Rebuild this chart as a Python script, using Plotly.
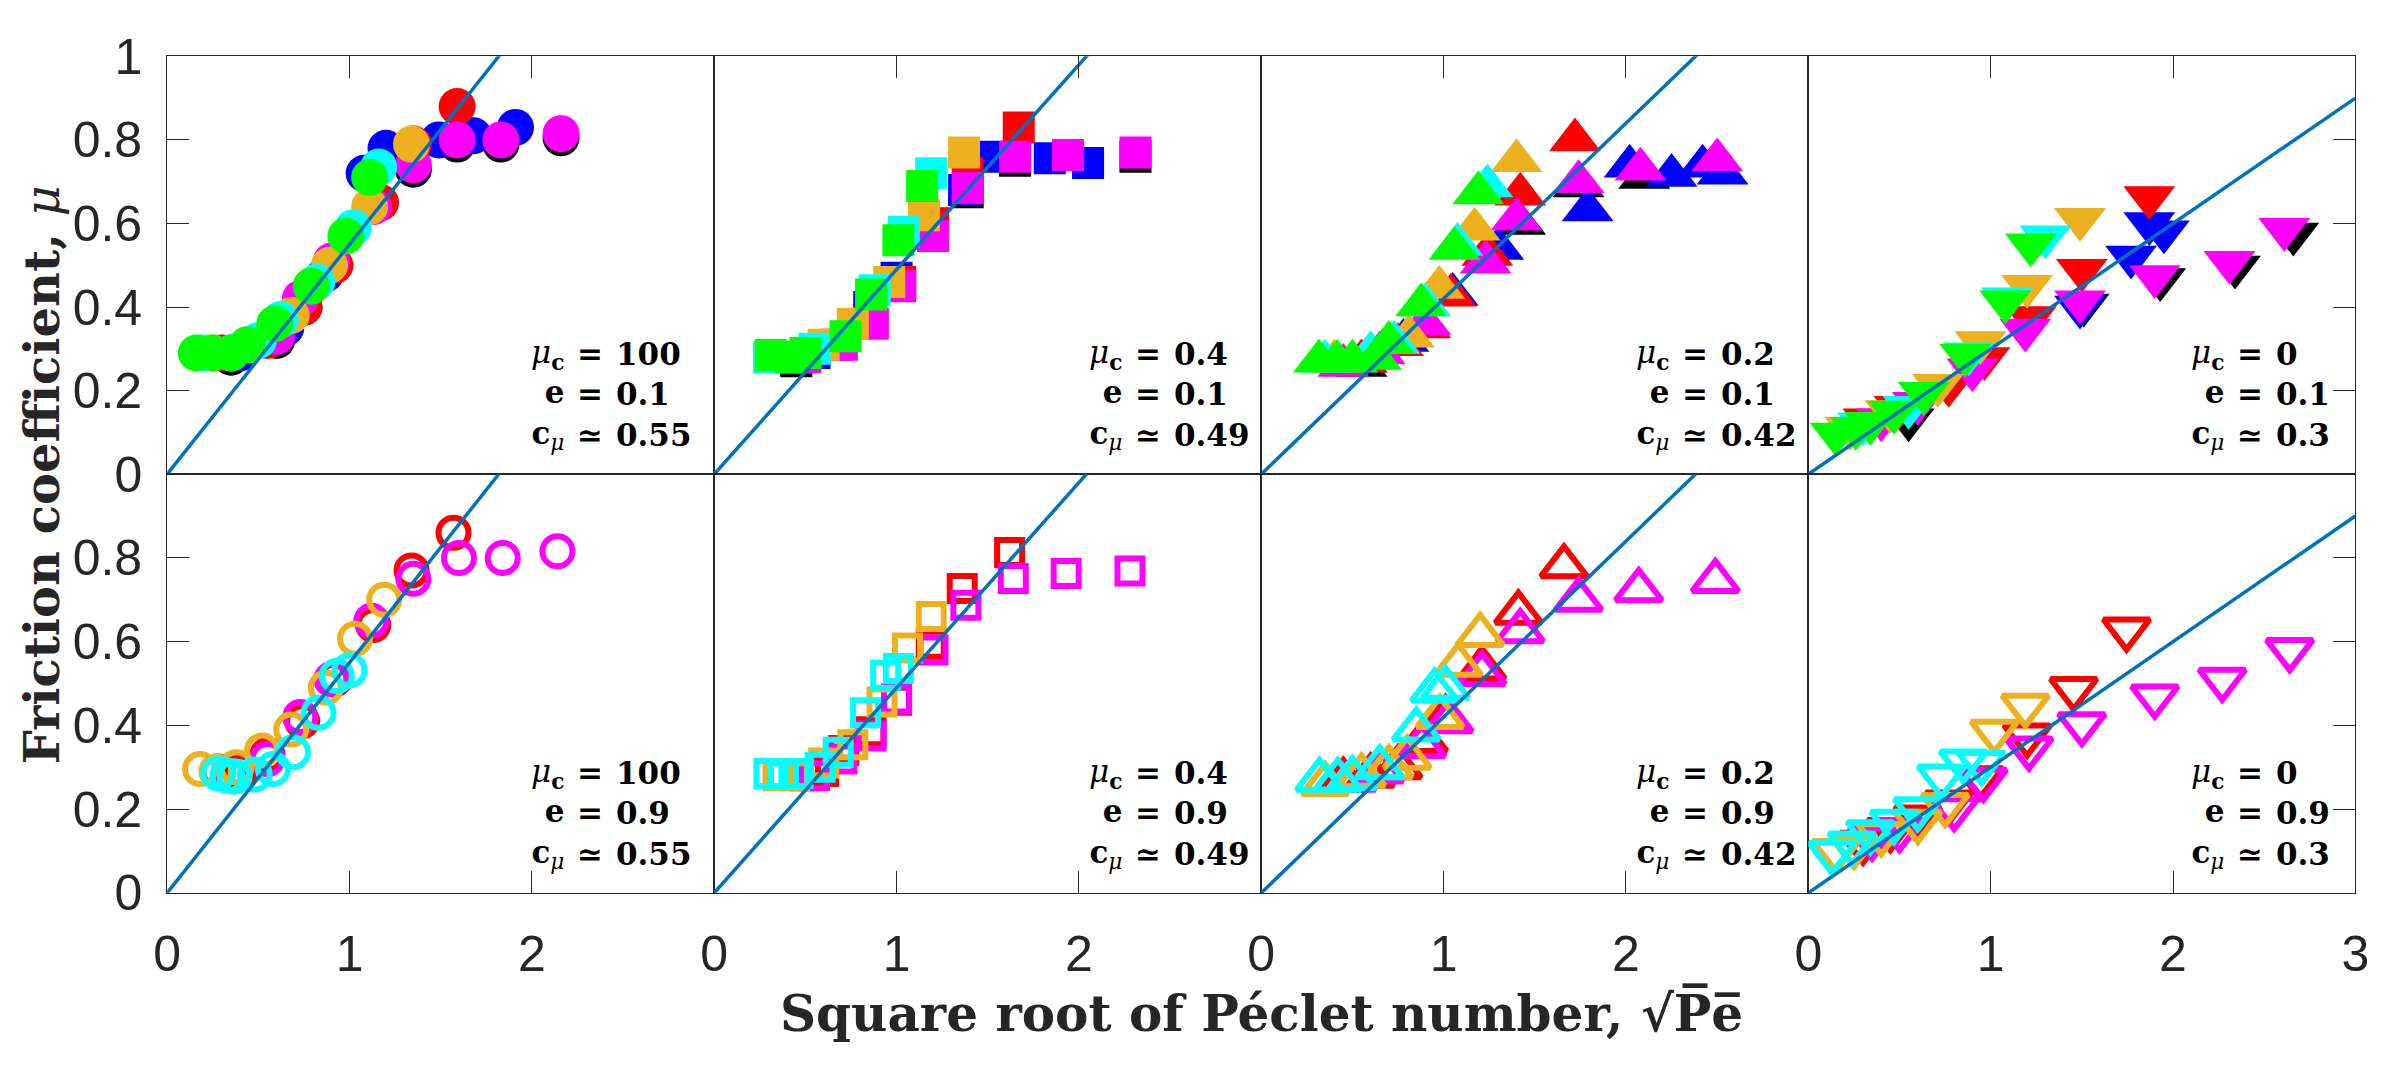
import plotly.graph_objects as go

# ---------------- data ----------------
mu_c_labels = ["100", "0.4", "0.2", "0"]
e_labels = ["0.1", "0.9"]
c_mu_values = [0.55, 0.49, 0.42, 0.3]
c_mu_labels = ["0.55", "0.49", "0.42", "0.3"]
x_ticks_inner = [0, 1, 2]
x_ticks_last = [0, 1, 2, 3]
y_ticks_top = [0, 0.2, 0.4, 0.6, 0.8, 1]
y_ticks_bottom = [0, 0.2, 0.4, 0.6, 0.8]

# top row (e = 0.1), filled markers
p1_black_x = [0.35, 0.60, 0.75, 1.35, 1.59, 1.83, 2.16]
p1_black_y = [0.28, 0.32, 0.40, 0.73, 0.79, 0.79, 0.805]
p1_blue_x = [0.40, 0.65, 0.87, 1.08, 1.20, 1.49, 1.68, 1.91]
p1_blue_y = [0.29, 0.35, 0.48, 0.72, 0.78, 0.80, 0.81, 0.83]
p1_red_x = [0.30, 0.55, 0.75, 0.92, 1.17, 1.35, 1.59]
p1_red_y = [0.29, 0.32, 0.40, 0.50, 0.65, 0.79, 0.88]
p1_magenta_x = [0.35, 0.60, 0.73, 0.90, 1.13, 1.35, 1.59, 1.83, 2.16]
p1_magenta_y = [0.29, 0.33, 0.42, 0.51, 0.64, 0.74, 0.80, 0.80, 0.815]
p1_orange_x = [0.25, 0.45, 0.68, 0.89, 1.11, 1.34]
p1_orange_y = [0.29, 0.31, 0.38, 0.50, 0.64, 0.79]
p1_cyan_x = [0.20, 0.35, 0.50, 0.62, 0.82, 1.02, 1.16]
p1_cyan_y = [0.29, 0.29, 0.32, 0.37, 0.46, 0.59, 0.735]
p1_green_x = [0.16, 0.25, 0.35, 0.44, 0.59, 0.79, 0.98, 1.11]
p1_green_y = [0.29, 0.29, 0.29, 0.31, 0.36, 0.45, 0.57, 0.71]

p2_black_x = [0.45, 1.39, 1.65, 2.31]
p2_black_y = [0.27, 0.675, 0.75, 0.76]
p2_blue_x = [0.55, 0.85, 1.00, 1.20, 1.37, 1.54, 1.84, 2.05]
p2_blue_y = [0.29, 0.40, 0.47, 0.60, 0.68, 0.76, 0.756, 0.745]
p2_red_x = [0.45, 0.67, 0.86, 1.02, 1.20, 1.39, 1.67]
p2_red_y = [0.28, 0.31, 0.38, 0.46, 0.60, 0.72, 0.83]
p2_magenta_x = [0.50, 0.70, 0.87, 1.02, 1.20, 1.39, 1.65, 1.94, 2.31]
p2_magenta_y = [0.28, 0.31, 0.36, 0.45, 0.57, 0.685, 0.76, 0.764, 0.77]
p2_orange_x = [0.40, 0.60, 0.76, 0.96, 1.15, 1.37]
p2_orange_y = [0.28, 0.31, 0.36, 0.46, 0.62, 0.77]
p2_cyan_x = [0.30, 0.55, 0.88, 1.04, 1.19]
p2_cyan_y = [0.28, 0.30, 0.44, 0.58, 0.72]
p2_green_x = [0.31, 0.42, 0.50, 0.72, 0.86, 1.01, 1.14]
p2_green_y = [0.285, 0.28, 0.29, 0.33, 0.43, 0.56, 0.69]

p3_black_x = [0.55, 1.42, 1.74, 2.10]
p3_black_y = [0.26, 0.60, 0.69, 0.71]
p3_blue_x = [0.55, 0.78, 1.05, 1.30, 1.79, 2.02, 2.25, 2.42, 2.53]
p3_blue_y = [0.27, 0.32, 0.43, 0.54, 0.632, 0.737, 0.715, 0.737, 0.72]
p3_red_x = [0.55, 0.75, 0.90, 1.04, 1.24, 1.42, 1.72]
p3_red_y = [0.27, 0.31, 0.352, 0.428, 0.526, 0.67, 0.80]
p3_magenta_x = [0.45, 0.65, 0.90, 1.23, 1.40, 1.74, 2.08, 2.50]
p3_magenta_y = [0.26, 0.29, 0.36, 0.507, 0.61, 0.70, 0.73, 0.752]
p3_orange_x = [0.40, 0.60, 0.81, 0.976, 1.17, 1.40]
p3_orange_y = [0.27, 0.29, 0.33, 0.447, 0.586, 0.75]
p3_cyan_x = [0.35, 0.60, 0.73, 0.90, 1.076, 1.24]
p3_cyan_y = [0.27, 0.29, 0.315, 0.405, 0.55, 0.69]
p3_green_x = [0.316, 0.416, 0.50, 0.63, 0.70, 0.877, 1.06, 1.19]
p3_green_y = [0.27, 0.27, 0.27, 0.277, 0.315, 0.405, 0.54, 0.673]

p4_black_x = [0.55, 1.51, 1.93, 2.34, 2.66]
p4_black_y = [0.13, 0.405, 0.466, 0.496, 0.575]
p4_blue_x = [1.49, 1.77, 1.87, 1.95]
p4_blue_y = [0.40, 0.52, 0.60, 0.58]
p4_red_x = [0.33, 0.50, 0.77, 0.966, 1.22, 1.50, 1.87]
p4_red_y = [0.13, 0.16, 0.213, 0.277, 0.375, 0.488, 0.662]
p4_magenta_x = [0.40, 0.60, 0.90, 1.19, 1.49, 1.90, 2.31, 2.61]
p4_magenta_y = [0.13, 0.17, 0.25, 0.345, 0.413, 0.473, 0.507, 0.586]
p4_orange_x = [0.23, 0.45, 0.71, 0.944, 1.20, 1.49]
p4_orange_y = [0.11, 0.15, 0.213, 0.315, 0.45, 0.61]
p4_cyan_x = [0.30, 0.55, 0.88, 1.09, 1.30]
p4_cyan_y = [0.12, 0.16, 0.288, 0.42, 0.568]
p4_green_x = [0.15, 0.26, 0.34, 0.47, 0.633, 0.86, 1.08, 1.22]
p4_green_y = [0.096, 0.11, 0.122, 0.149, 0.194, 0.285, 0.413, 0.549]

# bottom row (e = 0.9), open markers
p5_red_x = [0.28, 0.40, 0.55, 0.74, 0.92, 1.13, 1.34, 1.57]
p5_red_y = [0.29, 0.29, 0.33, 0.41, 0.51, 0.64, 0.77, 0.86]
p5_magenta_x = [0.35, 0.55, 0.73, 0.90, 1.12, 1.35, 1.60, 1.84, 2.14]
p5_magenta_y = [0.28, 0.32, 0.42, 0.51, 0.65, 0.75, 0.80, 0.80, 0.816]
p5_orange_x = [0.18, 0.27, 0.38, 0.52, 0.68, 0.87, 1.03, 1.19]
p5_orange_y = [0.296, 0.29, 0.30, 0.34, 0.39, 0.49, 0.607, 0.70]
p5_cyan_x = [0.28, 0.33, 0.37, 0.48, 0.58, 0.69, 0.83, 0.93, 1.00]
p5_cyan_y = [0.285, 0.28, 0.278, 0.283, 0.296, 0.336, 0.43, 0.518, 0.532]

p6_red_x = [0.50, 0.60, 0.71, 0.86, 1.00, 1.19, 1.36, 1.62]
p6_red_y = [0.28, 0.29, 0.34, 0.385, 0.46, 0.594, 0.727, 0.813]
p6_magenta_x = [0.55, 0.70, 0.86, 1.00, 1.20, 1.38, 1.64, 1.93, 2.28]
p6_magenta_y = [0.28, 0.32, 0.375, 0.463, 0.58, 0.687, 0.751, 0.763, 0.769]
p6_orange_x = [0.35, 0.44, 0.60, 0.76, 0.92, 1.06, 1.19]
p6_orange_y = [0.28, 0.28, 0.31, 0.354, 0.456, 0.585, 0.66]
p6_cyan_x = [0.30, 0.38, 0.46, 0.58, 0.68, 0.83, 0.94, 1.01]
p6_cyan_y = [0.285, 0.283, 0.285, 0.30, 0.336, 0.43, 0.52, 0.536]

p7_red_x = [0.45, 0.60, 0.75, 0.89, 1.01, 1.21, 1.41, 1.66]
p7_red_y = [0.27, 0.28, 0.30, 0.363, 0.42, 0.536, 0.669, 0.78]
p7_magenta_x = [0.50, 0.65, 0.88, 1.03, 1.21, 1.42, 1.74, 2.07, 2.49]
p7_magenta_y = [0.27, 0.29, 0.35, 0.41, 0.523, 0.625, 0.70, 0.723, 0.745]
p7_orange_x = [0.35, 0.55, 0.70, 0.80, 0.98, 1.08, 1.20]
p7_orange_y = [0.26, 0.28, 0.30, 0.323, 0.42, 0.545, 0.616]
p7_cyan_x = [0.32, 0.42, 0.50, 0.65, 0.85, 0.95, 1.01]
p7_cyan_y = [0.27, 0.27, 0.274, 0.30, 0.39, 0.483, 0.49]

p8_red_x = [0.30, 0.45, 0.60, 0.77, 0.94, 1.20, 1.455, 1.745]
p8_red_y = [0.12, 0.15, 0.18, 0.216, 0.274, 0.376, 0.487, 0.629]
p8_magenta_x = [0.35, 0.50, 0.80, 0.96, 1.21, 1.50, 1.90, 2.27, 2.64]
p8_magenta_y = [0.13, 0.15, 0.20, 0.27, 0.345, 0.403, 0.469, 0.509, 0.58]
p8_orange_x = [0.15, 0.25, 0.40, 0.60, 0.75, 1.02, 1.19]
p8_orange_y = [0.10, 0.11, 0.14, 0.17, 0.21, 0.385, 0.447]
p8_cyan_x = [0.13, 0.24, 0.34, 0.47, 0.60, 0.73, 0.85, 0.95]
p8_cyan_y = [0.096, 0.118, 0.145, 0.17, 0.20, 0.278, 0.314, 0.31]

# ---------------- styling ----------------
W, H = 2400, 1065
LEFT, RIGHT, TOP, MID, BOTTOM = 155, 2369, 31, 472, 914
CW = (RIGHT - LEFT) / 4
AX_COL = "#262626"
LINE_COL = "#0072BD"
COL = {"black": "#000000", "blue": "#0000FF", "red": "#FF0000",
       "magenta": "#FF00FF", "orange": "#EDB120", "cyan": "#00FFFF",
       "green": "#00FF00"}
TICK_FONT = dict(family="Liberation Sans, Arial, Helvetica", size=50, color=AX_COL)
SERIF = "DejaVu Serif, Liberation Serif, serif"

top_symbols = ["circle", "square", "triangle-up", "triangle-down"]
top_sizes = [37, 32, 45, 45]
bot_symbols = ["circle-open", "square-open", "triangle-up-open", "triangle-down-open"]
bot_sizes = [30, 25, 40, 40]

top_series = [
    [("black", p1_black_x, p1_black_y), ("blue", p1_blue_x, p1_blue_y), ("red", p1_red_x, p1_red_y),
     ("magenta", p1_magenta_x, p1_magenta_y), ("orange", p1_orange_x, p1_orange_y),
     ("cyan", p1_cyan_x, p1_cyan_y), ("green", p1_green_x, p1_green_y)],
    [("black", p2_black_x, p2_black_y), ("blue", p2_blue_x, p2_blue_y), ("red", p2_red_x, p2_red_y),
     ("magenta", p2_magenta_x, p2_magenta_y), ("orange", p2_orange_x, p2_orange_y),
     ("cyan", p2_cyan_x, p2_cyan_y), ("green", p2_green_x, p2_green_y)],
    [("black", p3_black_x, p3_black_y), ("blue", p3_blue_x, p3_blue_y), ("red", p3_red_x, p3_red_y),
     ("magenta", p3_magenta_x, p3_magenta_y), ("orange", p3_orange_x, p3_orange_y),
     ("cyan", p3_cyan_x, p3_cyan_y), ("green", p3_green_x, p3_green_y)],
    [("black", p4_black_x, p4_black_y), ("blue", p4_blue_x, p4_blue_y), ("red", p4_red_x, p4_red_y),
     ("magenta", p4_magenta_x, p4_magenta_y), ("orange", p4_orange_x, p4_orange_y),
     ("cyan", p4_cyan_x, p4_cyan_y), ("green", p4_green_x, p4_green_y)],
]
bot_series = [
    [("red", p5_red_x, p5_red_y), ("magenta", p5_magenta_x, p5_magenta_y),
     ("orange", p5_orange_x, p5_orange_y), ("cyan", p5_cyan_x, p5_cyan_y)],
    [("red", p6_red_x, p6_red_y), ("magenta", p6_magenta_x, p6_magenta_y),
     ("orange", p6_orange_x, p6_orange_y), ("cyan", p6_cyan_x, p6_cyan_y)],
    [("red", p7_red_x, p7_red_y), ("magenta", p7_magenta_x, p7_magenta_y),
     ("orange", p7_orange_x, p7_orange_y), ("cyan", p7_cyan_x, p7_cyan_y)],
    [("red", p8_red_x, p8_red_y), ("magenta", p8_magenta_x, p8_magenta_y),
     ("orange", p8_orange_x, p8_orange_y), ("cyan", p8_cyan_x, p8_cyan_y)],
]

fig = go.Figure()
layout = dict(width=W, height=H, margin=dict(l=0, r=0, t=0, b=0),
              paper_bgcolor="white", plot_bgcolor="white", showlegend=False)
annotations = []

rel_x = [2.32, 2.38, 2.38, 2.42]
text_center_y = 0.19

for row in range(2):
    for col in range(4):
        k = row * 4 + col + 1
        xa, ya = f"x{k}", f"y{k}"
        xname = "xaxis" if k == 1 else f"xaxis{k}"
        yname = "yaxis" if k == 1 else f"yaxis{k}"
        x0 = (LEFT + col * CW) / W
        x1 = (LEFT + (col + 1) * CW) / W
        if row == 0:
            y0, y1 = (H - MID) / H, (H - TOP) / H
        else:
            y0, y1 = (H - BOTTOM) / H, (H - MID) / H
        xt = x_ticks_last if col == 3 else x_ticks_inner
        layout[xname] = dict(
            domain=[x0, x1], range=[0, 3], anchor=ya,
            side="top" if row == 0 else "bottom",
            showline=True, mirror=True, linecolor=AX_COL, linewidth=1,
            ticks="inside", ticklen=22, tickwidth=1, tickcolor=AX_COL,
            tickvals=[1, 2] if row == 0 else xt,
            ticktext=None if row == 0 else [str(v) for v in xt],
            showticklabels=(row == 1), tickfont=TICK_FONT, ticklabelstandoff=17,
            showgrid=False, zeroline=False, fixedrange=True)
        yt = y_ticks_top if row == 0 else y_ticks_bottom
        ydict = dict(
            domain=[y0, y1], range=[0, 1], anchor=xa,
            showline=True, mirror=True, linecolor=AX_COL, linewidth=1,
            showgrid=False, zeroline=False, fixedrange=True, tickfont=TICK_FONT)
        if col == 0:
            ydict.update(side="left", ticks="inside", ticklen=22, tickwidth=1,
                         tickcolor=AX_COL, tickvals=yt,
                         ticktext=[("%g" % v) for v in yt], showticklabels=True,
                         ticklabelstandoff=14)
        elif col == 3:
            ydict.update(side="right", ticks="inside", ticklen=22, tickwidth=1,
                         tickcolor=AX_COL, tickvals=[0.2, 0.4, 0.6, 0.8],
                         showticklabels=False)
        else:
            ydict.update(ticks="", showticklabels=False)
        layout[yname] = ydict

        # markers
        if row == 0:
            for cname, xs, ys in top_series[col]:
                fig.add_trace(go.Scatter(
                    x=xs, y=ys, mode="markers", xaxis=xa, yaxis=ya,
                    marker=dict(symbol=top_symbols[col], size=top_sizes[col],
                                color=COL[cname], line=dict(width=0)),
                    hoverinfo="skip"))
        else:
            for cname, xs, ys in bot_series[col]:
                fig.add_trace(go.Scatter(
                    x=xs, y=ys, mode="markers", xaxis=xa, yaxis=ya,
                    marker=dict(symbol=bot_symbols[col], size=bot_sizes[col],
                                color=COL[cname], line=dict(width=6, color=COL[cname])),
                    hoverinfo="skip"))
        # fit line mu = c_mu * sqrt(Pe)
        c = c_mu_values[col]
        fig.add_trace(go.Scatter(x=[0, 3], y=[0, 3 * c], mode="lines",
                                 xaxis=xa, yaxis=ya,
                                 line=dict(color=LINE_COL, width=3.5),
                                 hoverinfo="skip"))

        # parameter text, aligned on the relation sign
        lhs = "<i>μ</i><sub><b>c</b></sub><br><b>e</b><br><b>c</b><sub><i>μ</i></sub>"
        rel = "<b>=</b><br><b>=</b><br><b>≃</b>"
        rhs = "<b>%s</b><br><b>%s</b><br><b>%s</b>" % (mu_c_labels[col], e_labels[row],
                                                       c_mu_labels[col])
        afont = dict(family=SERIF, size=31, color="black")
        annotations.append(dict(x=rel_x[col], y=text_center_y, xref=xa, yref=ya,
                                text=lhs, showarrow=False, xanchor="right", align="right",
                                yanchor="middle", xshift=-25, font=afont, borderpad=0))
        annotations.append(dict(x=rel_x[col], y=text_center_y, xref=xa, yref=ya,
                                text=rel, showarrow=False, xanchor="center", align="center",
                                yanchor="middle", font=afont, borderpad=0))
        annotations.append(dict(x=rel_x[col], y=text_center_y, xref=xa, yref=ya,
                                text=rhs, showarrow=False, xanchor="left", align="left",
                                yanchor="middle", xshift=25, font=afont, borderpad=0))

# axis titles
annotations.append(dict(
    x=(LEFT + RIGHT) / 2 / W, y=(H - 1041) / H, xref="paper", yref="paper",
    text="<b>Square root of Péclet number, √P\u0305e\u0305</b>",
    showarrow=False, xanchor="center", yanchor="middle",
    font=dict(family=SERIF, size=50, color=AX_COL)))
annotations.append(dict(
    x=28 / W, y=(H - (TOP + BOTTOM) / 2) / H, xref="paper", yref="paper",
    text="<b>Friction coefficient, </b><i>μ</i>", textangle=-90,
    showarrow=False, xanchor="center", yanchor="middle",
    font=dict(family=SERIF, size=48, color=AX_COL)))

layout["annotations"] = annotations
fig.update_layout(**layout)
fig.write_html("out.html")
